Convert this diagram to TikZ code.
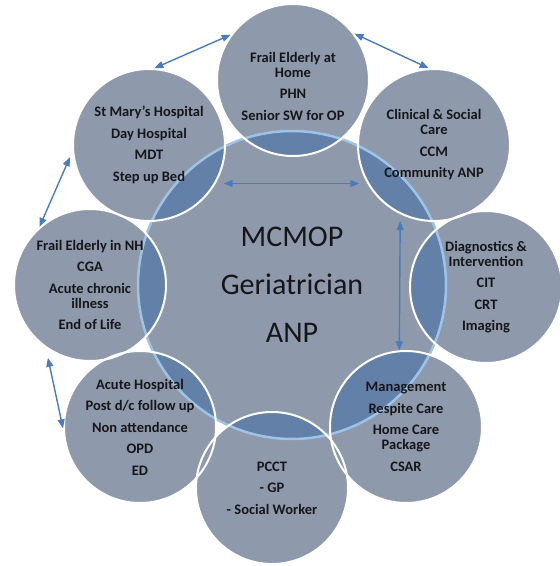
\documentclass[tikz,border=0pt]{standalone}
\usepackage{fontspec}
\setmainfont{Carlito}
\usetikzlibrary{arrows.meta,backgrounds}

\definecolor{discfill}{RGB}{142,154,171}
\definecolor{overlapfill}{RGB}{98,128,168}
\definecolor{hubline}{RGB}{157,195,230}
\definecolor{linkblue}{RGB}{72,124,190}
\definecolor{inktext}{RGB}{22,22,26}

\tikzstyle{disc}=[circle, inner sep=0pt]
\tikzstyle{hub}=[disc, minimum size=308pt, draw=hubline, line width=2.5pt]
\tikzstyle{spoke}=[disc, minimum size=152pt, draw=white, line width=2pt]
\tikzstyle{hubtext}=[align=center, text=inktext, font=\fontsize{30}{48}\selectfont]
\tikzstyle{spoketext}=[align=center, text=inktext, font=\fontsize{14.5}{15}\selectfont\bfseries]
\tikzstyle{link}=[<->, >={Triangle[length=9pt,width=7pt]}, draw=linkblue, line width=1.4pt]

\begin{document}
\begin{tikzpicture}[x=1pt, y=1pt]
    \useasboundingbox (0,0) rectangle (560,566);

    \node[hub]   (hub)      at (292,281) {};
    \node[spoke] (home)     at (293,486) {};
    \node[spoke] (clinical) at (434,421) {};
    \node[spoke] (diag)     at (486,279) {};
    \node[spoke] (mgmt)     at (406,139) {};
    \node[spoke] (pcct)     at (272,78)  {};
    \node[spoke] (acute)    at (140,139) {};
    \node[spoke] (nh)       at (90,281)  {};
    \node[spoke] (stmary)   at (149,421) {};

    % discs and the darker parts where they overlap the hub
    \begin{scope}[on background layer]
      \fill[discfill] (hub.center) circle (154);
      \foreach \n in {home,clinical,diag,mgmt,pcct,acute,nh,stmary}
        \fill[discfill] (\n.center) circle (76);
      \clip (hub.center) circle (154);
      \foreach \n in {home,clinical,diag,mgmt,pcct,acute,nh,stmary}
        \fill[overlapfill] (\n.center) circle (76);
    \end{scope}

    % texts
    \node[hubtext]   (hubt)      at (hub)      {MCMOP\\Geriatrician\\ANP};
    \node[spoketext] (homet)     at ([yshift=-6pt]home.center) {Frail Elderly at\\Home\\[6.5pt]PHN\\[6.5pt]Senior SW for OP};
    \node[spoketext] (clinicalt) at (clinical) {Clinical \& Social\\Care\\[6.5pt]CCM\\[6.5pt]Community ANP};
    \node[spoketext] (diagt)     at (diag)     {Diagnostics \&\\Intervention\\[6.5pt]CIT\\[6.5pt]CRT\\[6.5pt]Imaging};
    \node[spoketext] (mgmtt)     at (mgmt)     {Management\\[6.5pt]Respite Care\\[6.5pt]Home Care\\Package\\[6.5pt]CSAR};
    \node[spoketext] (pcctt)     at (pcct)     {PCCT\\[6.5pt]- GP\\[6.5pt]- Social Worker};
    \node[spoketext] (acutet)    at (acute)    {Acute Hospital\\[6.5pt]Post d/c follow up\\[6.5pt]Non attendance\\[6.5pt]OPD\\[6.5pt]ED};
    \node[spoketext] (nht)       at (nh)       {Frail Elderly in NH\\[6.5pt]CGA\\[6.5pt]Acute chronic\\illness\\[6.5pt]End of Life};
    \node[spoketext] (stmaryt)   at (stmary)   {St Mary’s Hospital\\[6.5pt]Day Hospital\\[6.5pt]MDT\\[6.5pt]Step up Bed};

    % links
    \draw[link] (stmary.86) -- (home.144);
    \draw[link] (home.37) -- (clinical.94);
    \draw[link, shorten >=6pt] (nh.131) -- (stmary.185);
    \draw[link, shorten <=10pt] (nh.235) -- (acute.181);
    \draw[link, shorten <=8pt, shorten >=8pt] (stmary.330) -- (clinical.210);
    \draw[link, shorten <=7pt] (clinical.244) -- (mgmt.95);
\end{tikzpicture}
\end{document}
